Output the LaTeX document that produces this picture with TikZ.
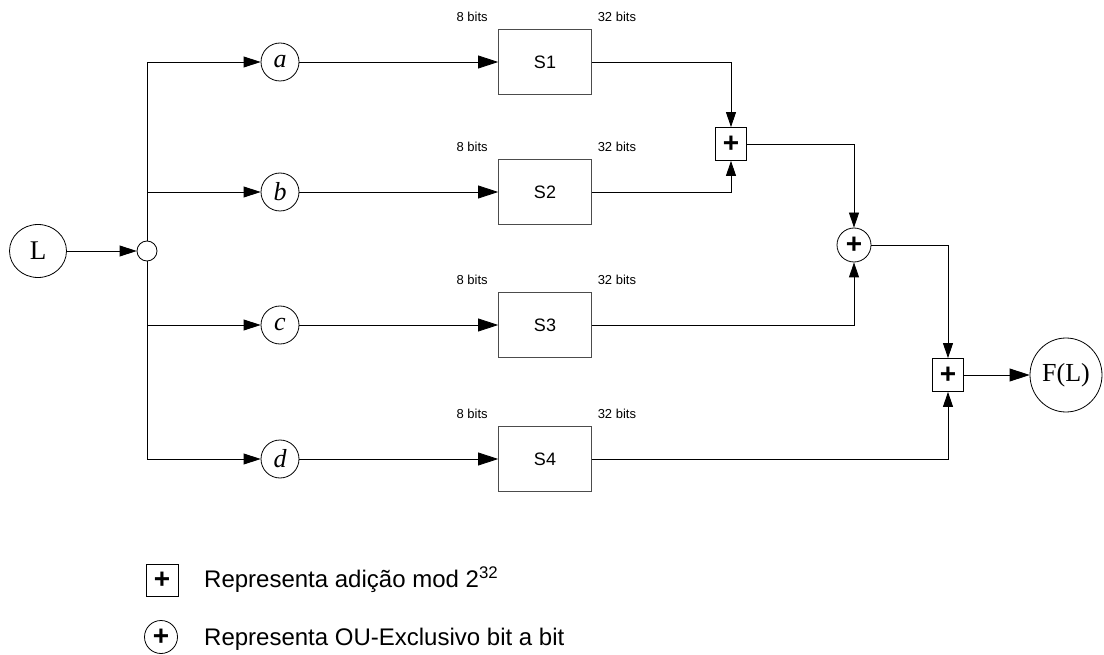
\documentclass[tikz,border=0pt]{standalone}
\usepackage{fontspec}
\setmainfont{Liberation Serif}
\setsansfont{Liberation Sans}
\usetikzlibrary{arrows.meta,calc,positioning,shapes.geometric}

\tikzset{
  wire/.style={line width=0.8pt},
  bigtip/.style={-{Triangle[length=20pt,width=13pt]}},
  midtip/.style={-{Triangle[length=17pt,width=11pt]}},
  smalltip/.style={-{Triangle[length=15pt,width=10pt]}},
  sbox/.style={draw=black!70,line width=0.8pt,minimum width=93pt,minimum height=65pt,
    inner sep=0pt,font=\sffamily\fontsize{18}{18}\selectfont},
  varcirc/.style={draw,circle,line width=0.8pt,minimum size=38pt,inner sep=0pt,
    font=\itshape\fontsize{26}{26}\selectfont},
  addbox/.style={draw,line width=0.8pt,minimum width=31pt,minimum height=33pt,inner sep=0pt,
    font=\sffamily\bfseries\fontsize{28}{28}\selectfont},
  xorcirc/.style={draw,circle,line width=0.8pt,minimum size=34pt,inner sep=0pt,
    font=\sffamily\bfseries\fontsize{28}{28}\selectfont},
  bitlbl/.style={font=\sffamily\fontsize{13}{13}\selectfont,inner sep=0pt},
  legtext/.style={anchor=west,inner sep=0pt,font=\sffamily\fontsize{24}{24}\selectfont}
}

\begin{document}
\begin{tikzpicture}[x=1pt,y=-1pt]
\useasboundingbox (0,0) rectangle (1104,655);

% input and splitter
\node[draw,ellipse,line width=0.8pt,minimum width=57pt,minimum height=53pt,inner sep=0pt,
  font=\fontsize{27}{27}\selectfont] (L) at (38,251) {L};
\node[draw,circle,line width=0.8pt,minimum size=20pt,inner sep=0pt] (J) at (147,251) {};
\draw[wire,midtip] (L) -- (J);

% the four bytes and S-boxes
\foreach \nm/\yy/\sn in {a/62/1,b/192/2,c/325/3,d/459/4}{
  \node[varcirc] (v\nm) at (280,\yy) {\nm};
  \node[sbox] (s\sn) at (545,\yy) {S\sn};
  \node[bitlbl] (in\sn) at ($(s\sn.north west)+(-26,-12)$) {8 bits};
  \node[bitlbl] (out\sn) at ($(s\sn.north east)+(25,-12)$) {32 bits};
  \draw[wire,midtip] (J) |- (v\nm);
  \draw[wire,bigtip] (v\nm) -- (s\sn);
}

% combining stages
\node[addbox] (add1) at (731,144) {+};
\node[xorcirc] (xor) at (854,245) {+};
\node[addbox] (add2) at (948,375) {+};
\node[draw,ellipse,line width=0.8pt,minimum width=72pt,minimum height=74pt,inner sep=0pt,
  font=\fontsize{26}{26}\selectfont] (FL) at (1066,375) {F(L)};

\draw[wire,smalltip] (s1) -| (add1);
\draw[wire,smalltip] (s2) -| (add1);
\draw[wire,smalltip] (add1) -| (xor);
\draw[wire,smalltip] (s3) -| (xor);
\draw[wire,smalltip] (xor) -| (add2);
\draw[wire,smalltip] (s4) -| (add2);
\draw[wire,bigtip] (add2) -- (FL);

% legend
\node[addbox,minimum width=32pt,minimum height=32pt] (legadd) at (162,580) {+};
\node[legtext] (legaddtxt) at (204,580) {Representa adição mod 2\textsuperscript{32}};
\node[xorcirc,minimum size=33pt] (legxor) at (161,637) {+};
\node[legtext] (legxortxt) at (204,639) {Representa OU-Exclusivo bit a bit};
\end{tikzpicture}
\end{document}
